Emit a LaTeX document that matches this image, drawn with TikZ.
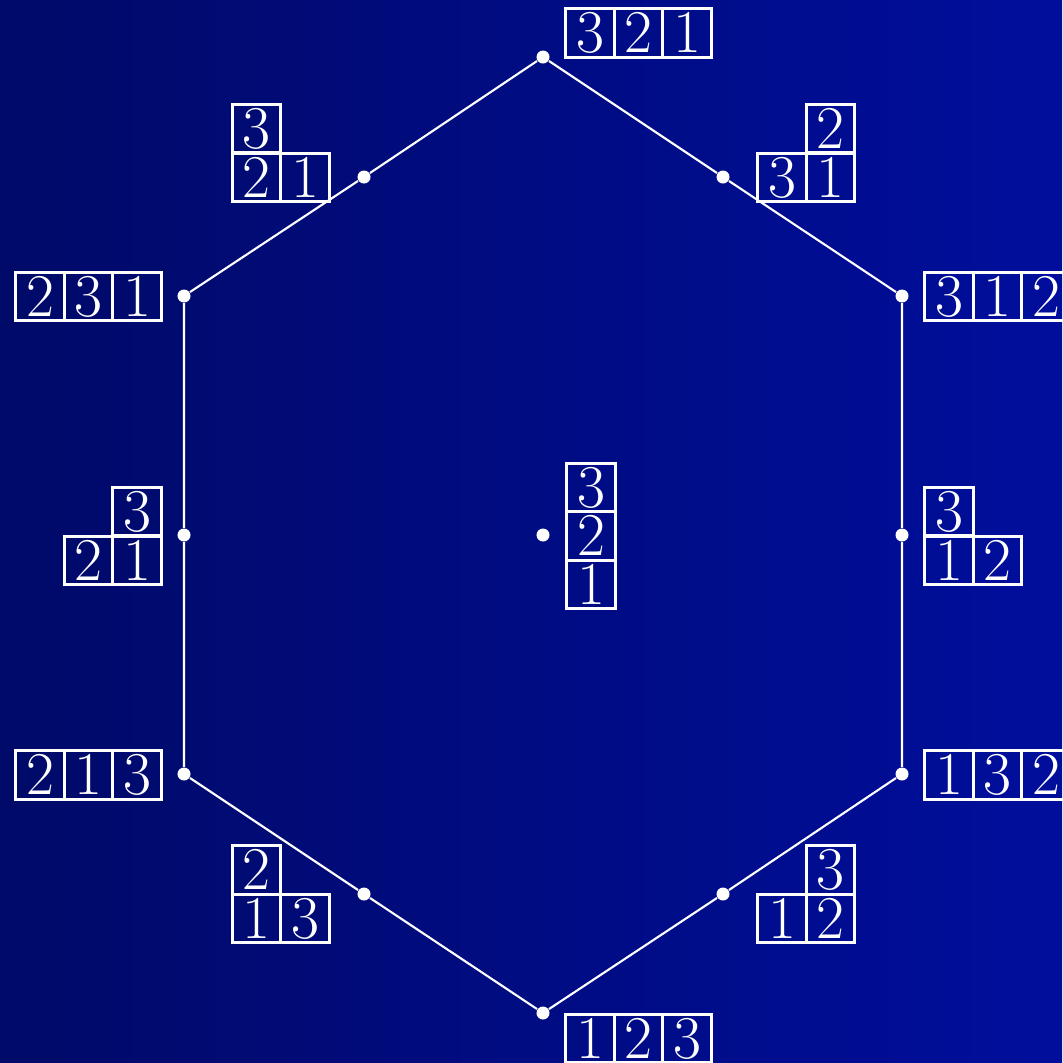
\documentclass[tikz,border=0pt]{standalone}
\usetikzlibrary{positioning}
\definecolor{bgleft}{RGB}{0,10,104}
\definecolor{bgright}{RGB}{0,14,156}
\tikzset{
  vdot/.style={circle, fill=white, inner sep=0pt, minimum size=0.13cm},
  hexline/.style={white, line width=0.6pt},
  ybox/.style={draw=white, line width=0.8pt, minimum size=0.485cm, inner sep=0pt,
    text=white, font=\fontsize{16}{19}\selectfont}
}

\begin{document}
\begin{tikzpicture}[x=0.01cm, y=-0.01cm]
  % Background
  \shade[left color=bgleft, right color=bgright] (0,0) rectangle (1062,1063);
  \useasboundingbox (0,0) rectangle (1062,1063);

  % Hexagon vertices and edge midpoints
  \node[vdot] (v321) at (543,57) {};
  \node[vdot] (v231) at (184,296) {};
  \node[vdot] (v213) at (184,774) {};
  \node[vdot] (v123) at (543,1013) {};
  \node[vdot] (v132) at (902,774) {};
  \node[vdot] (v312) at (902,296) {};
  \node[vdot] (mul) at (364,177) {};
  \node[vdot] (ml) at (184,535) {};
  \node[vdot] (mll) at (364,894) {};
  \node[vdot] (mlr) at (723,894) {};
  \node[vdot] (mr) at (902,535) {};
  \node[vdot] (mur) at (723,177) {};
  \node[vdot] (ctr) at (543,535) {};

  % Hexagon
  \draw[hexline] (v321) -- (mul) -- (v231) -- (ml) -- (v213) -- (mll) -- (v123)
    -- (mlr) -- (v132) -- (mr) -- (v312) -- (mur) -- (v321);

  % One-row tableaux at the vertices
  \foreach \n/\x/\y/\d in {
      ta/590/33/3, tb/638.5/33/2, tc/687/33/1,
      la/40/296.5/2, lb/88.5/296.5/3, lc/137/296.5/1,
      ka/40/775/2, kb/88.5/775/1, kc/137/775/3,
      ba/590/1038.5/1, bb/638.5/1038.5/2, bc/687/1038.5/3,
      ra/949/775/1, rb/997.5/775/3, rc/1046/775/2,
      sa/949/296.5/3, sb/997.5/296.5/1, sc/1046/296.5/2}
    \node[ybox] (c\n) at (\x,\y) {$\d$};

  % Hook tableaux at the edge midpoints
  \foreach \n/\x/\y/\d in {
      ua/256.5/128.5/3, ub/256.5/177.5/2, uc/305/177.5/1,
      pa/137/511.5/3, pb/88.5/560.5/2, pc/137/560.5/1,
      qa/256.5/870/2, qb/256.5/918.5/1, qc/305/918.5/3,
      wa/830.5/870/3, wb/782/918.5/1, wc/830.5/918.5/2,
      ea/949/511.5/3, eb/949/560.5/1, ec/997.5/560.5/2,
      na/830.5/128.5/2, nb/782/177.5/3, nc/830.5/177.5/1}
    \node[ybox] (c\n) at (\x,\y) {$\d$};

  % One-column tableau at the centre
  \foreach \n/\y/\d in {za/487.5/3, zb/536/2, zc/584.5/1}
    \node[ybox] (c\n) at (591,\y) {$\d$};
\end{tikzpicture}
\end{document}
